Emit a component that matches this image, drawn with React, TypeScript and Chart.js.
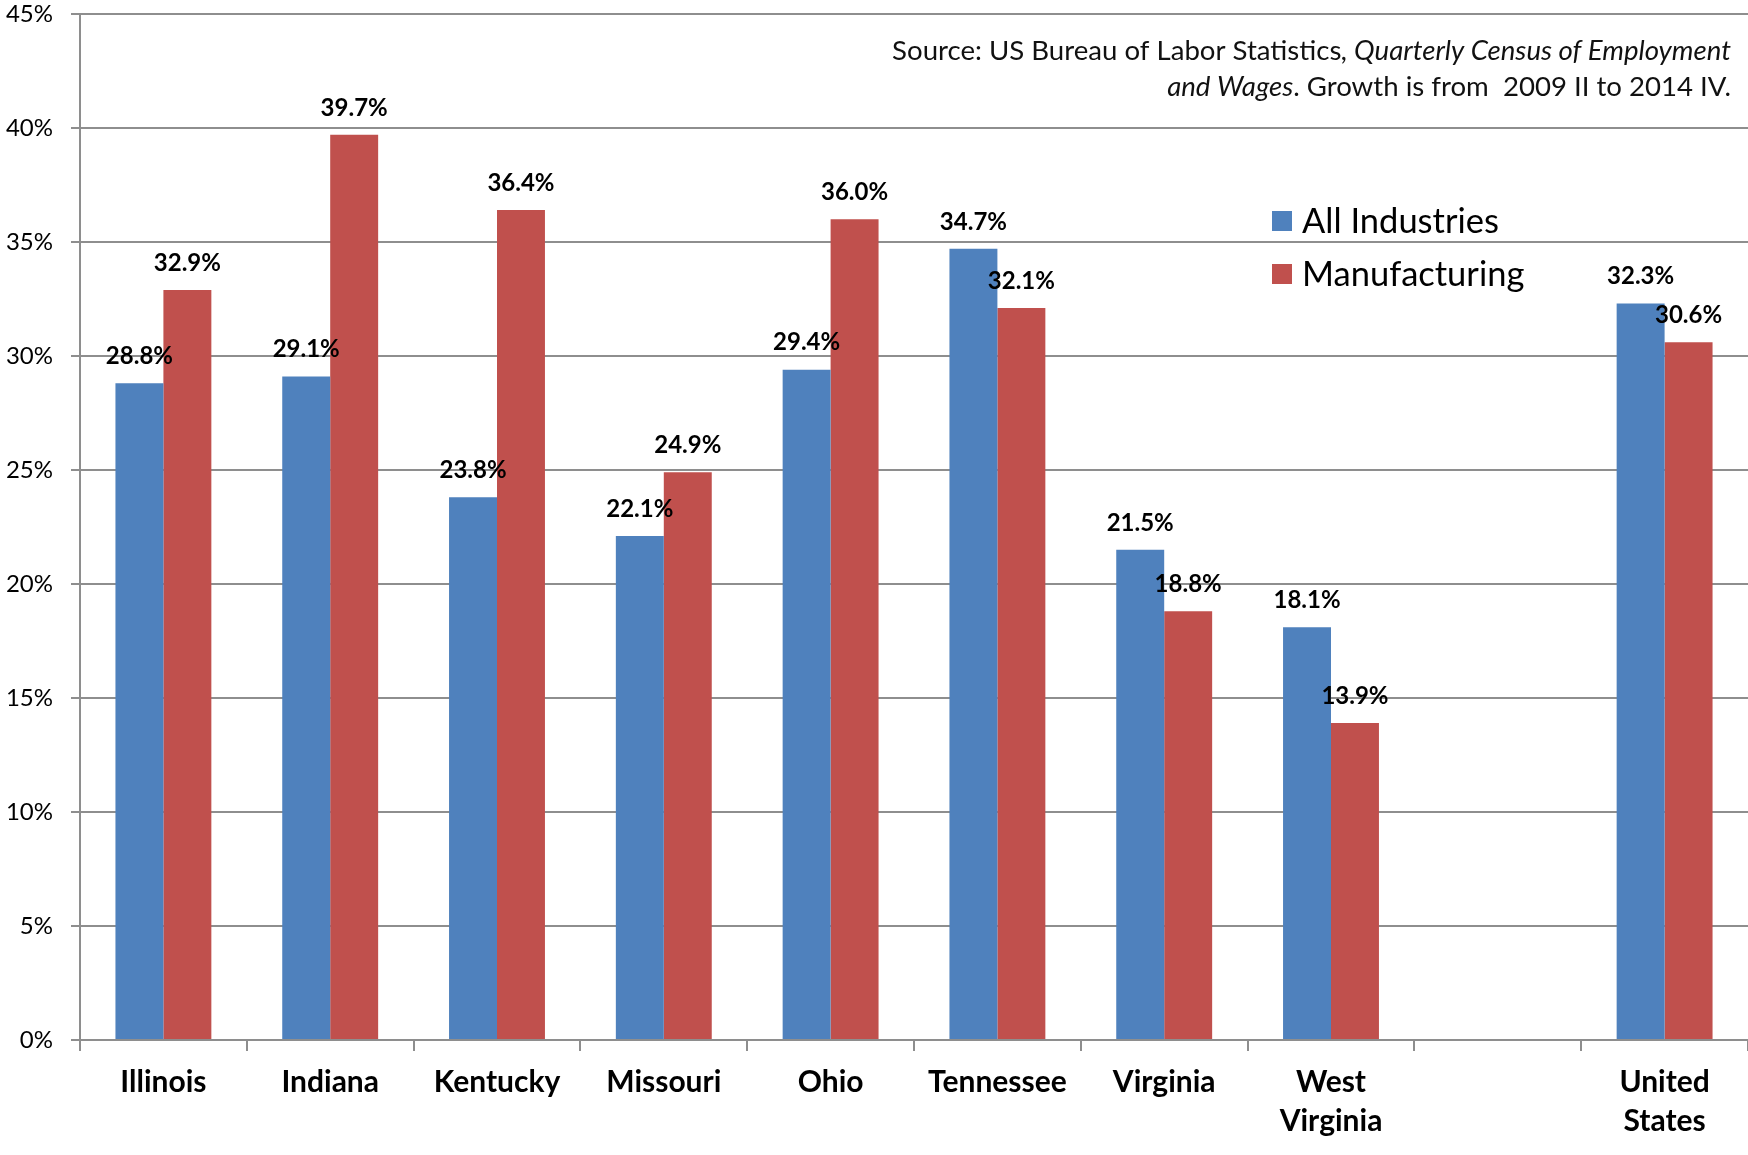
import React, { useEffect, useRef } from "react";
import { Chart, registerables } from "chart.js";

Chart.register(...registerables);

const categories: (string | string[])[] = [
  "Illinois",
  "Indiana",
  "Kentucky",
  "Missouri",
  "Ohio",
  "Tennessee",
  "Virginia",
  ["West", "Virginia"],
  "",
  ["United", "States"],
];
const allIndustries: (number | null)[] = [28.8, 29.1, 23.8, 22.1, 29.4, 34.7, 21.5, 18.1, null, 32.3];
const manufacturing: (number | null)[] = [32.9, 39.7, 36.4, 24.9, 36.0, 32.1, 18.8, 13.9, null, 30.6];
const seriesNames = ["All Industries", "Manufacturing"];
const seriesColors = ["#4F81BD", "#C0504D"];
const yMin = 0;
const yMax = 45;
const yStep = 5;
const sourceLine1 = [
  { text: "Source: US Bureau of Labor Statistics", italic: false },
  { text: ", Quarterly Census of Employment", italic: true },
];
const sourceLine2 = [
  { text: "and Wages", italic: true },
  { text: ". Growth is from  2009 II to 2014 IV.", italic: false },
];

const FONT = "Lato, 'Open Sans', sans-serif";
const GRID = "#8E8E8E";

const overlayPlugin = {
  id: "overlay",
  afterDatasetsDraw(chart: any) {
    const ctx = chart.ctx;
    ctx.save();
    // value labels
    ctx.font = `bold 24px ${FONT}`;
    ctx.fillStyle = "#000";
    ctx.textAlign = "center";
    ctx.textBaseline = "middle";
    chart.data.datasets.forEach((ds: any, di: number) => {
      const meta = chart.getDatasetMeta(di);
      meta.data.forEach((el: any, i: number) => {
        const v = ds.data[i];
        if (v === null || v === undefined) return;
        ctx.fillText(v.toFixed(1) + "%", el.x, el.y - 27);
      });
    });

    // source note (right aligned, mixed italic)
    const drawLine = (segs: { text: string; italic: boolean }[], right: number, y: number) => {
      const fonts = segs.map((s) => `${s.italic ? "italic " : ""}27.6px ${FONT}`);
      const widths = segs.map((s, i) => {
        ctx.font = fonts[i];
        return ctx.measureText(s.text).width;
      });
      let x = right - widths.reduce((a, b) => a + b, 0);
      ctx.textAlign = "left";
      ctx.textBaseline = "middle";
      ctx.fillStyle = "#111";
      segs.forEach((s, i) => {
        ctx.font = fonts[i];
        ctx.fillText(s.text, x, y);
        x += widths[i];
      });
    };
    drawLine(sourceLine1, 1731, 51);
    drawLine(sourceLine2, 1731, 87);

    // legend
    const legendX = 1272;
    const legendYs = [221, 274];
    seriesNames.forEach((name, i) => {
      ctx.fillStyle = seriesColors[i];
      ctx.fillRect(legendX, legendYs[i] - 10, 20, 20);
      ctx.fillStyle = "#000";
      ctx.font = `34.5px ${FONT}`;
      ctx.textAlign = "left";
      ctx.textBaseline = "middle";
      ctx.fillText(name, legendX + 30, legendYs[i] + 1);
    });
    ctx.restore();
  },
};

export default function App() {
  const canvasRef = useRef<HTMLCanvasElement | null>(null);

  useEffect(() => {
    document.body.style.margin = "0";
    const canvas = canvasRef.current;
    if (!canvas) return;
    const chart = new Chart(canvas, {
      type: "bar",
      data: {
        labels: categories,
        datasets: [
          {
            label: seriesNames[0],
            data: allIndustries,
            backgroundColor: seriesColors[0],
            categoryPercentage: 0.575,
            barPercentage: 1,
          },
          {
            label: seriesNames[1],
            data: manufacturing,
            backgroundColor: seriesColors[1],
            categoryPercentage: 0.575,
            barPercentage: 1,
          },
        ],
      },
      options: {
        animation: false,
        responsive: true,
        maintainAspectRatio: false,
        layout: { padding: { top: 14, right: 0, left: 0, bottom: 0 } },
        plugins: {
          legend: { display: false },
          tooltip: { enabled: false },
        },
        scales: {
          x: {
            offset: true,
            grid: {
              offset: true,
              drawOnChartArea: false,
              drawTicks: true,
              tickLength: 11,
              color: GRID,
              lineWidth: 2,
            },
            border: { display: true, color: GRID, width: 2 },
            ticks: {
              color: "#000",
              font: { family: FONT, size: 30, weight: "bold", lineHeight: 1.3 },
              padding: 12,
              maxRotation: 0,
              minRotation: 0,
              autoSkip: false,
            },
            afterFit: (scale: any) => {
              scale.height = 115;
              scale.paddingLeft = 0;
              scale.paddingRight = 0;
            },
          },
          y: {
            min: yMin,
            max: yMax,
            ticks: {
              stepSize: yStep,
              color: "#000",
              font: { family: FONT, size: 24 },
              padding: 18,
              callback: (v: any) => v + "%",
            },
            grid: {
              color: GRID,
              lineWidth: 2,
              tickLength: 9,
              drawTicks: true,
            },
            border: { display: true, color: GRID, width: 2 },
            afterFit: (scale: any) => {
              scale.width = 80;
              scale.paddingTop = 0;
              scale.paddingBottom = 0;
            },
          },
        },
      },
      plugins: [overlayPlugin],
    });
    return () => chart.destroy();
  }, []);

  return (
    <div style={{ width: "1748px", height: "1155px", position: "relative", background: "#fff" }}>
      <canvas ref={canvasRef} />
    </div>
  );
}
